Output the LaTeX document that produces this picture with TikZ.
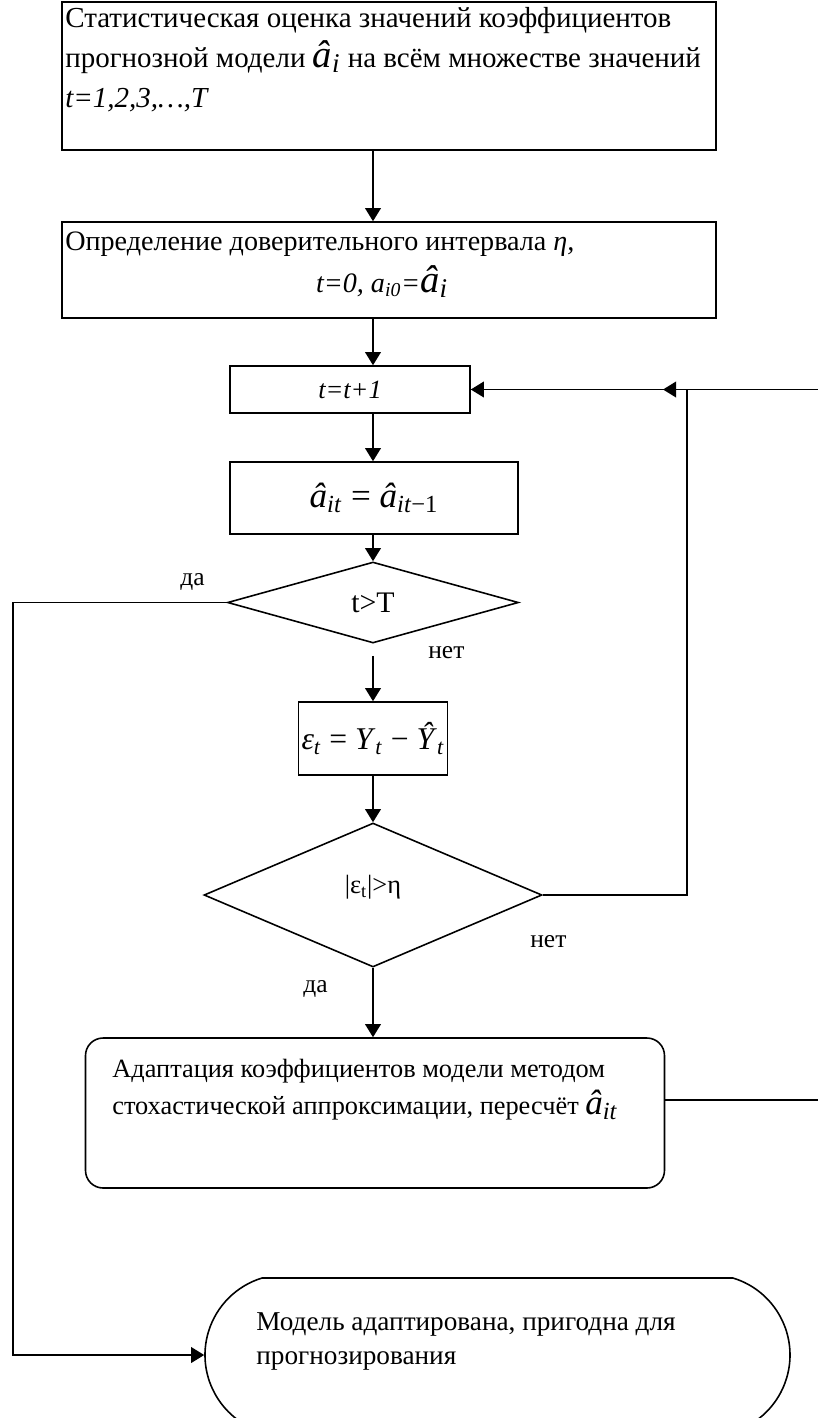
\documentclass[tikz,border=0pt]{standalone}
\usepackage{amsmath}
\usepackage{fontspec}
\setmainfont{Liberation Serif}
\usetikzlibrary{shapes.geometric, shapes.misc, arrows.meta, positioning, calc}

\newcommand{\pxu}{0.02cm}
% a-hat with index, MathType-like size
\newcommand{\hata}[2][22]{{\fontsize{#1}{#1}\selectfont\textit{â}\textsubscript{\textit{#2}}}}

\begin{document}
\begin{tikzpicture}[x=0.02cm, y=-0.02cm,
    blk/.style={draw, line width=0.9pt, inner sep=0pt},
    dec/.style={draw, diamond, line width=0.9pt, inner sep=0pt, font=\fontsize{15}{17}\selectfont},
    txt/.style={inner sep=0pt, font=\fontsize{16}{18}\selectfont},
    lbl/.style={inner sep=0pt, font=\fontsize{14.5}{16}\selectfont},
    arr/.style={-{Triangle[length=7.5pt,width=9pt]}, line width=0.9pt},
    ln/.style={line width=0.9pt}]
    \useasboundingbox (0,0) rectangle (818,1418);

    % guide lines
    \coordinate (ax) at (373,0);
    \coordinate (loopx) at (687,0);
    \coordinate (leftx) at (13,0);

    % blocks
    \node[blk, minimum width=654*\pxu, minimum height=148*\pxu] (stat) at (389,76) {};
    \node[blk, minimum width=654*\pxu, minimum height=96*\pxu] (conf) at (389,270) {};
    \node[blk, minimum width=240*\pxu, minimum height=47*\pxu, font=\fontsize{15}{17}\selectfont] (incr) at (350,389.5) {\textit{t=t+1}};
    \node[blk, minimum width=288*\pxu, minimum height=72*\pxu, font=\fontsize{20}{20}\selectfont] (upd) at (374,498)
        {\textit{â}\textsubscript{\textit{it}} = \textit{â}\textsubscript{\textit{it}−1}};
    \node[dec, minimum width=291*\pxu, minimum height=81*\pxu, font=\fontsize{17}{19}\selectfont] (chk1) at (373,602.5) {t>T};
    \node[blk, minimum width=149*\pxu, minimum height=73*\pxu, font=\fontsize{18}{18}\selectfont] (err) at (373,738.5)
        {\textit{ε}\textsubscript{\textit{t}} = \textit{Y}\textsubscript{\textit{t}} − \textit{Ŷ}\textsubscript{\textit{t}}};
    \node[dec, text depth=12pt, minimum width=338*\pxu, minimum height=144*\pxu] (chk2) at (373,895) {|ε\textsubscript{t}|>η};
    \node[blk, rounded corners=10pt, minimum width=579*\pxu, minimum height=150*\pxu] (adapt) at (375,1113) {};
    \node[blk, rounded rectangle, rounded rectangle arc length=146, minimum width=585*\pxu, minimum height=154*\pxu] (term) at (497.5,1355) {};

    % texts in the big blocks
    \node[txt, anchor=base west, font=\fontsize{16.5}{18}\selectfont] (statA) at (65,27) {Статистическая оценка значений коэффициентов};
    \node[txt, anchor=base west, font=\fontsize{16.5}{18}\selectfont] (statB) at (65,67) {прогнозной модели \hata{i} на всём множестве значений};
    \node[txt, anchor=base west, font=\fontsize{16.5}{18}\selectfont] (statC) at (65,107) {\textit{t=1,2,3,…,T}};
    \node[txt, anchor=base west] (confA) at (65,250) {Определение доверительного интервала \textit{η,}};
    \node[txt, anchor=base] (confB) at (382,292) {\textit{t=0, a\textsubscript{i0}=}\hata{i}};
    \node[txt, anchor=base west, font=\fontsize{15}{17}\selectfont] (adaptA) at (112,1077) {Адаптация коэффициентов модели методом};
    \node[txt, anchor=base west, font=\fontsize{15}{17}\selectfont] (adaptB) at (112,1114) {стохастической аппроксимации, пересчёт \hata[20]{it}};
    \node[txt, anchor=base west, font=\fontsize{15.5}{17}\selectfont] (termA) at (256,1330) {Модель адаптирована, пригодна для};
    \node[txt, anchor=base west, font=\fontsize{15.5}{17}\selectfont] (termB) at (256,1364) {прогнозирования};

    % branch labels
    \node[lbl, anchor=base west] (yes1) at (180,585) {да};
    \node[lbl, anchor=base west] (no1) at (428,658) {нет};
    \node[lbl, anchor=base west] (no2) at (530,947) {нет};
    \node[lbl, anchor=base west] (yes2) at (303,992) {да};

    % main flow
    \draw[arr] (stat.south -| ax) -- (conf.north -| ax);
    \draw[arr] (conf.south -| ax) -- (incr.north -| ax);
    \draw[arr] (incr.south -| ax) -- (upd.north -| ax);
    \draw[arr] (upd.south -| ax) -- (chk1.north);
    \draw[arr] ($(chk1.south)+(0,12)$) -- (err.north);
    \draw[arr] (err.south) -- (chk2.north);
    \draw[arr] (chk2.south) -- (adapt.north -| chk2.south);

    % loop back to t=t+1
    \draw[arr] (chk2.east) -| (loopx |- incr.east) -- (incr.east);
    \coordinate (edgeA) at (818,389.5);
    \coordinate (tipA) at (663,389.5);
    \draw[arr] (edgeA) -- (tipA);
    \coordinate (edgeB) at (818,1100);
    \draw[ln] (adapt.east |- edgeB) -- (edgeB);

    % exit
    \draw[arr] (chk1.west) -| (leftx |- term.west) -- (term.west);
\end{tikzpicture}
\end{document}
